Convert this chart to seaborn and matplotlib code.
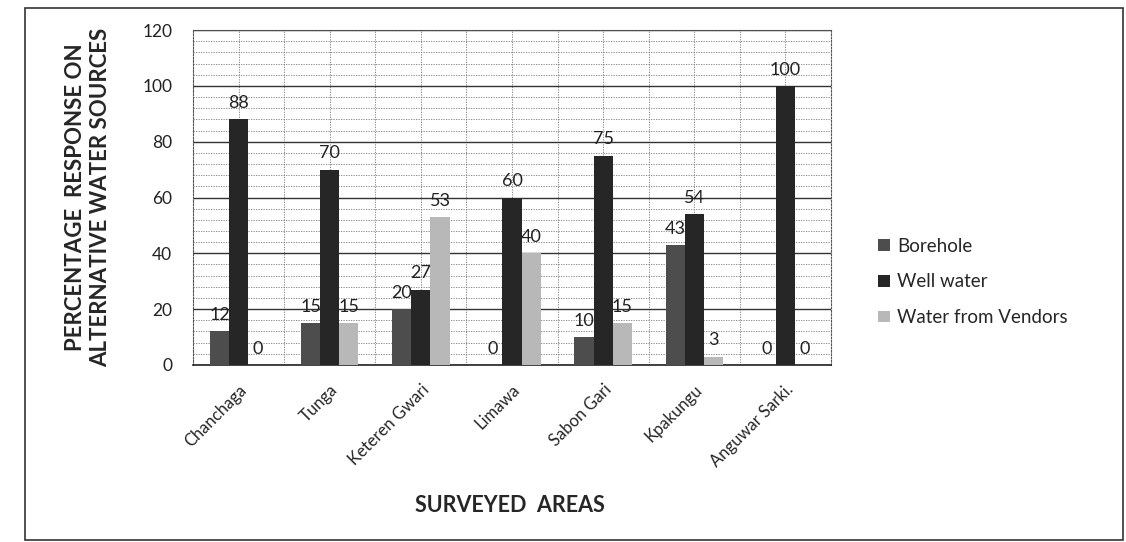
import matplotlib
matplotlib.use('Agg')
import matplotlib.pyplot as plt
from matplotlib.ticker import MultipleLocator, FixedLocator
from matplotlib.patches import Rectangle
import seaborn as sns
import pandas as pd

# Data
areas = ['Chanchaga', 'Tunga', 'Keteren Gwari', 'Limawa', 'Sabon Gari', 'Kpakungu', 'Anguwar Sarki.']
borehole = [12, 15, 20, 0, 10, 43, 0]
well_water = [88, 70, 27, 60, 75, 54, 100]
vendors = [0, 15, 53, 40, 15, 3, 0]
sources = ['Borehole', 'Well water', 'Water from Vendors']

df = pd.DataFrame({'Area': areas * 3,
                   'Percent': borehole + well_water + vendors,
                   'Source': [s for s in sources for _ in areas]})

sns.set_style('white')
plt.rcParams['font.family'] = ['Lato', 'DejaVu Sans']

fig = plt.figure(figsize=(11.26, 5.42), dpi=100)
ax = fig.add_axes([0.1714, 0.3266, 0.5666, 0.618])

sns.barplot(data=df, x='Area', y='Percent', hue='Source', ax=ax,
            palette=['#4d4d4d', '#262626', '#b8b8b8'], saturation=1,
            width=0.63, edgecolor='none', zorder=3)

# value labels above bars
for cont in ax.containers:
    ax.bar_label(cont, fmt='%g', padding=6, fontsize=13, color='#222222')

ax.set_ylim(0, 120)
ax.set_xlim(-0.5, len(areas) - 0.5)
ax.yaxis.set_major_locator(MultipleLocator(20))
ax.yaxis.set_minor_locator(MultipleLocator(4))
ax.xaxis.set_minor_locator(FixedLocator([i - 0.5 for i in range(len(areas) + 1)]))

ax.grid(which='major', axis='y', color='#333333', linewidth=1.0, zorder=0)
ax.grid(which='minor', axis='y', color='#777777', linewidth=0.6, linestyle=(0, (1.5, 1.5)), zorder=0)
ax.grid(which='both', axis='x', color='#777777', linewidth=0.6, linestyle=(0, (1.5, 1.5)), zorder=0)
ax.set_axisbelow(True)

for side in ['top', 'right', 'left']:
    ax.spines[side].set_linestyle((0, (1.5, 1.5)))
    ax.spines[side].set_color('#555555')
    ax.spines[side].set_linewidth(0.8)
ax.spines['bottom'].set_color('#222222')
ax.spines['bottom'].set_linewidth(1.2)

ax.tick_params(axis='y', which='major', length=5, labelsize=12.5, colors='#222222', pad=10)
ax.tick_params(axis='y', which='minor', length=0)
ax.tick_params(axis='x', which='major', length=0, labelsize=12, pad=12)
ax.tick_params(axis='x', which='minor', length=5, color='#555555')
plt.setp(ax.get_xticklabels(), rotation=45, ha='right', rotation_mode='anchor')

ax.set_xlabel('')
ax.set_ylabel('PERCENTAGE  RESPONSE ON\nALTERNATIVE WATER SOURCES',
              fontsize=16, fontweight='bold', labelpad=22, linespacing=1.3)
fig.text(0.453, 0.068, 'SURVEYED  AREAS', fontsize=15.5, fontweight='bold',
         ha='center', va='center')

ax.legend(loc='center left', bbox_to_anchor=(0.765, 0.48), bbox_transform=fig.transFigure,
          frameon=False, fontsize=13.5, handlelength=0.6, handleheight=0.6,
          handletextpad=0.4, labelspacing=1.0)

# outer chart border
fig.patches.append(Rectangle((25 / 1126, 2 / 542), 1098 / 1126, 532 / 542,
                             transform=fig.transFigure, fill=False,
                             edgecolor='#333333', linewidth=1.2))

fig.savefig('out.png', dpi=100, facecolor='white')
